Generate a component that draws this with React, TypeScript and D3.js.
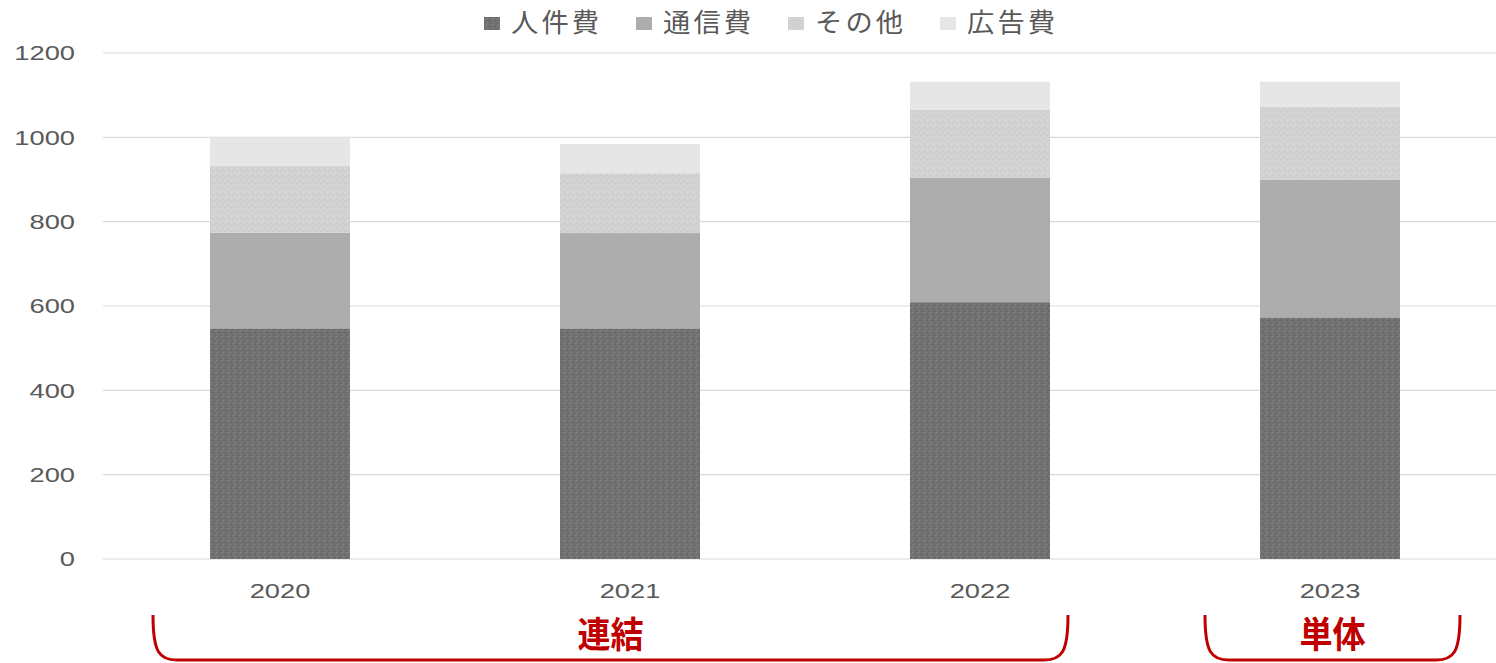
import React from "react";
import * as d3 from "d3";

const years = ["2020", "2021", "2022", "2023"];
const seriesNames = ["人件費", "通信費", "その他", "広告費"];
const personnel = [547, 547, 609, 573];
const communication = [227, 226, 295, 327];
const other = [159, 142, 161, 173];
const advertising = [67, 69, 67, 59];
const yTicks = [0, 200, 400, 600, 800, 1000, 1200];
const groupLabels = ["連結", "単体"];

const W = 1496;
const H = 663;
const margin = { left: 105, right: -9, top: 53, bottom: 104 };
const NUM_FONT = "'Liberation Sans', Arial, sans-serif";
const JP_FONT = "'Noto Sans CJK JP', sans-serif";

function SText({
  x,
  y,
  sx,
  anchor,
  children,
  ...rest
}: any) {
  return (
    <g transform={`translate(${x},${y}) scale(${sx},1)`}>
      <text textAnchor={anchor} {...rest}>
        {children}
      </text>
    </g>
  );
}

export default function App() {
  const x = d3
    .scaleBand<string>()
    .domain(years)
    .range([margin.left, W - margin.right])
    .paddingInner(0.6)
    .paddingOuter(0.3);
  const y = d3.scaleLinear().domain([0, 1200]).range([H - margin.bottom, margin.top]);

  const rows = years.map((yr, i) => ({
    year: yr,
    人件費: personnel[i],
    通信費: communication[i],
    その他: other[i],
    広告費: advertising[i],
  }));
  const stack = d3.stack<any>().keys(seriesNames)(rows);
  const fills = ["url(#patDark)", "#adadad", "url(#patLight)", "#e6e6e6"];
  const legendFills = ["url(#patDark)", "#adadad", "url(#patLight)", "#e6e6e6"];
  const legendX = [484, 636, 788, 940];

  const bw = x.bandwidth();
  const cx = (yr: string) => (x(yr) as number) + bw / 2;

  const bracket = (x0: number, x1: number) => {
    const top = 615;
    const bot = 660;
    return `M${x0},${top} C${x0},${bot - 8} ${x0 + 6},${bot} ${x0 + 24},${bot} L${x1 - 24},${bot} C${x1 - 6},${bot} ${x1},${bot - 8} ${x1},${top}`;
  };
  const b1x0 = cx("2020") - 127;
  const b1x1 = cx("2022") + 88;
  const b2x0 = cx("2023") - 125;
  const b2x1 = cx("2023") + 130;

  return (
    <svg
      width={W}
      height={H}
      style={{ position: "absolute", left: 0, top: 0, background: "#fff" }}
    >
      <defs>
        <pattern id="patDark" width="6" height="6" patternUnits="userSpaceOnUse">
          <rect width="6" height="6" fill="#717171" />
          <rect x="0" y="0" width="1" height="1" fill="#8c8c8c" />
          <rect x="3" y="2" width="1" height="1" fill="#5c5c5c" />
          <rect x="1" y="4" width="1" height="1" fill="#888" />
          <rect x="4" y="5" width="1" height="1" fill="#606060" />
          <rect x="5" y="1" width="1" height="1" fill="#828282" />
        </pattern>
        <pattern id="patLight" width="6" height="6" patternUnits="userSpaceOnUse">
          <rect width="6" height="6" fill="#d2d2d2" />
          <rect x="0" y="1" width="1" height="1" fill="#c4c4c4" />
          <rect x="3" y="0" width="1" height="1" fill="#dedede" />
          <rect x="2" y="3" width="1" height="1" fill="#c6c6c6" />
          <rect x="5" y="4" width="1" height="1" fill="#dcdcdc" />
          <rect x="4" y="2" width="1" height="1" fill="#c8c8c8" />
        </pattern>
      </defs>

      {/* gridlines */}
      {yTicks.map((t) => (
        <line
          key={t}
          x1={margin.left - 2}
          x2={W}
          y1={y(t)}
          y2={y(t)}
          stroke="#d9d9d9"
          strokeWidth={1.2}
        />
      ))}
      {/* y tick labels */}
      {yTicks.map((t) => (
        <SText
          key={"l" + t}
          x={75}
          y={y(t)}
          sx={1.3}
          anchor="end"
          dy="0.35em"
          fontFamily={NUM_FONT}
          fontSize={21}
          fill="#595959"
        >
          {t}
        </SText>
      ))}

      {/* bars */}
      {stack.map((s, si) => (
        <g key={s.key}>
          {s.map((d, i) => (
            <rect
              key={i}
              x={x(years[i])}
              width={bw}
              y={y(d[1])}
              height={y(d[0]) - y(d[1])}
              fill={fills[si]}
            />
          ))}
        </g>
      ))}

      {/* x labels */}
      {years.map((yr) => (
        <SText
          key={yr}
          x={cx(yr)}
          y={598}
          sx={1.3}
          anchor="middle"
          fontFamily={NUM_FONT}
          fontSize={21}
          fill="#595959"
        >
          {yr}
        </SText>
      ))}

      {/* legend */}
      {seriesNames.map((n, i) => (
        <g key={n}>
          <rect x={legendX[i]} y={17} width={16} height={13} fill={legendFills[i]} />
          <SText
            x={legendX[i] + 27}
            y={23}
            sx={1.05}
            anchor="start"
            dy="0.36em"
            fontFamily={JP_FONT}
            fontSize={26}
            letterSpacing={3}
            fill="#595959"
          >
            {n}
          </SText>
        </g>
      ))}

      {/* brackets */}
      <path d={bracket(b1x0, b1x1)} fill="none" stroke="#c00000" strokeWidth={3} />
      <path d={bracket(b2x0, b2x1)} fill="none" stroke="#c00000" strokeWidth={3} />
      <SText
        x={(b1x0 + b1x1) / 2}
        y={648}
        sx={0.92}
        anchor="middle"
        fontFamily={JP_FONT}
        fontWeight="bold"
        fontSize={36}
        fill="#c00000"
      >
        {groupLabels[0]}
      </SText>
      <SText
        x={(b2x0 + b2x1) / 2}
        y={648}
        sx={0.92}
        anchor="middle"
        fontFamily={JP_FONT}
        fontWeight="bold"
        fontSize={36}
        fill="#c00000"
      >
        {groupLabels[1]}
      </SText>
    </svg>
  );
}
